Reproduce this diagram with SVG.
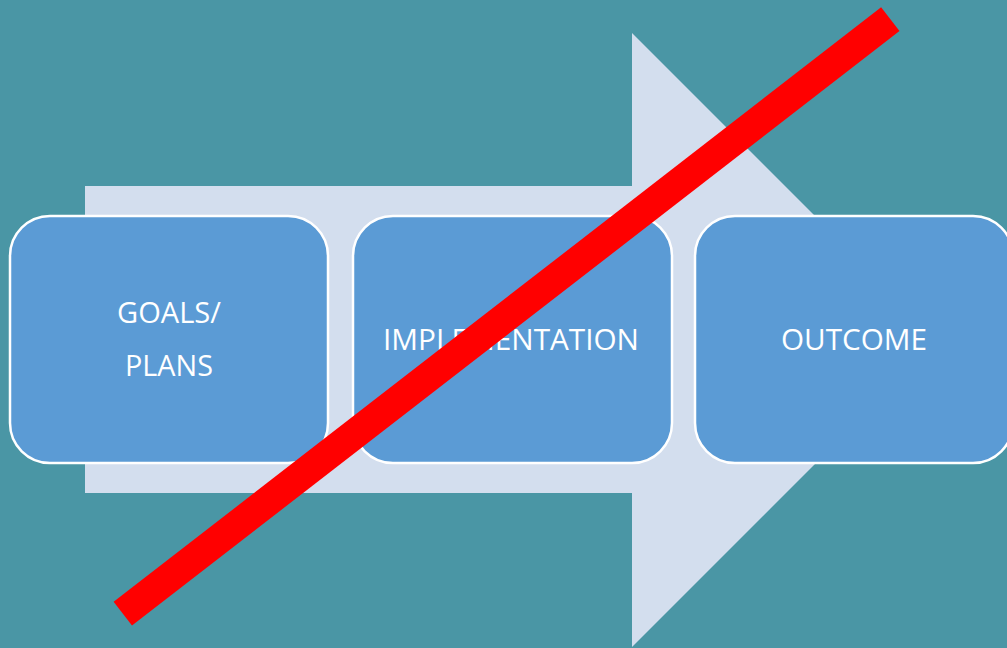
<svg xmlns="http://www.w3.org/2000/svg" width="1007" height="648" viewBox="0 0 1007 648">
  <style>
    .box { fill: #5B9BD5; stroke: #FFFFFF; stroke-width: 2.5; }
    .lbl { font-family: "Open Sans", "Liberation Sans", sans-serif; font-size: 30px; fill: #FFFFFF; text-anchor: middle; }
  </style>
  <rect x="0" y="0" width="1007" height="648" fill="#4A96A5"/>
  <g id="arrow">
    <polygon points="85,186 632,186 632,33 939,340 632,647 632,493 85,493" fill="#D3DEEE"/>
  </g>
  <g id="node-goals">
    <rect class="box" x="10" y="216" width="318" height="247" rx="40" ry="40"/>
    <text class="lbl" x="169" y="323" textLength="104" lengthAdjust="spacingAndGlyphs">GOALS/</text>
    <text class="lbl" x="169" y="376" textLength="88" lengthAdjust="spacingAndGlyphs">PLANS</text>
  </g>
  <g id="node-implementation">
    <rect class="box" x="353" y="216" width="319" height="247" rx="40" ry="40"/>
    <text class="lbl" x="511" y="350" textLength="256" lengthAdjust="spacingAndGlyphs">IMPLEMENTATION</text>
  </g>
  <g id="node-outcome">
    <rect class="box" x="695" y="216" width="318" height="247" rx="40" ry="40"/>
    <text class="lbl" x="854" y="350" textLength="146" lengthAdjust="spacingAndGlyphs">OUTCOME</text>
  </g>
  <g id="connectors">
    <line x1="890.3" y1="19.2" x2="122.8" y2="613.7" stroke="#FF0000" stroke-width="30" stroke-linecap="butt"/>
  </g>
</svg>
